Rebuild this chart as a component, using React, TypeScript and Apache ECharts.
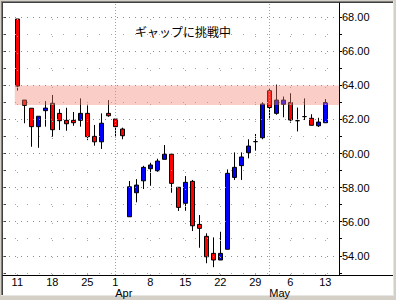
import React, { useEffect, useRef } from 'react';
import * as echarts from 'echarts';

const dates = [
  '3/11', '3/12', '3/13', '3/14', '3/15',
  '3/18', '3/19', '3/20', '3/21', '3/22',
  '3/25', '3/26', '3/27', '3/28',
  '4/1', '4/2', '4/3', '4/4', '4/5',
  '4/8', '4/9', '4/10', '4/11', '4/12',
  '4/15', '4/16', '4/17', '4/18', '4/19',
  '4/22', '4/23', '4/24', '4/25', '4/26',
  '4/29', '4/30', '5/1', '5/2', '5/3',
  '5/6', '5/7', '5/8', '5/9', '5/10',
  '5/13',
];
const openV = [
  67.9, 63.14, 62.66, 61.58, 62.52,
  62.95, 62.36, 61.95, 61.95, 61.95,
  62.36, 61.01, 60.69, 62.36,
  62.03, 61.44, 56.29, 57.7, 58.4,
  59.11, 58.99, 59.66, 59.96, 58.02,
  57.08, 58.37, 55.84, 55.14, 54.14,
  53.75, 54.38, 58.6, 59.29, 60.05,
  60.7, 60.93, 63.69, 62.36, 62.89,
  63.0, 61.93, 62.17, 62.07, 61.63,
  61.81,
];
const closeV = [
  63.96, 62.83, 61.58, 62.19, 62.67,
  61.4, 61.93, 61.75, 61.81, 62.36,
  60.99, 60.69, 61.78, 62.22,
  61.58, 61.05, 58.05, 58.15, 59.19,
  59.33, 59.56, 59.96, 58.25, 56.84,
  58.31, 55.76, 55.61, 53.94, 53.75,
  54.14, 58.84, 59.19, 59.8, 60.44,
  60.7, 62.91, 62.7, 63.14, 63.14,
  61.97, 61.93, 62.17, 61.66, 61.85,
  63.0,
];
const lowV = [
  63.7, 61.78, 60.4, 60.34, 61.58,
  60.99, 61.38, 61.34, 61.63, 61.58,
  60.79, 60.46, 60.27, 62.16,
  60.95, 60.84, 56.29, 57.14, 57.92,
  58.11, 58.93, 59.66, 57.7, 56.63,
  56.64, 55.45, 54.47, 53.56, 53.33,
  53.75, 54.38, 58.45, 58.45, 59.72,
  60.17, 60.84, 62.0, 62.28, 62.13,
  61.81, 61.3, 61.97, 61.66, 61.56,
  61.81,
];
const highV = [
  67.9, 63.14, 62.66, 62.19, 63.08,
  63.44, 62.61, 62.69, 62.44, 63.24,
  62.83, 61.68, 62.36, 63.14,
  62.03, 61.52, 58.39, 58.5, 59.28,
  59.46, 59.7, 60.5, 59.96, 58.02,
  58.68, 58.45, 56.39, 55.32, 55.08,
  55.41, 59.07, 60.07, 60.07, 60.84,
  61.15, 63.01, 63.83, 64.05, 63.35,
  63.54, 62.7, 63.24, 62.31, 62.1,
  63.2,
];

const dayTickIdx = [0, 5, 10, 14, 19, 24, 29, 34, 39, 44];
const dayTickText = ['11', '18', '25', '1', '8', '15', '22', '29', '6', '13'];
const monthIdx = [14, 36];
const monthText = ['Apr', 'May'];
const yLabelValues = [54, 56, 58, 60, 62, 64, 66, 68];
const yTickValues = [53, 54, 55, 56, 57, 58, 59, 60, 61, 62, 63, 64, 65, 66, 67, 68];
const yMinorGrid = [53, 55, 57, 59, 61, 63, 65, 67];
const gapStartIdx = 0;
const gapLow = 62.85;
const gapHigh = 64.0;
const titleText = 'ギャップに挑戦中';

const X_MIN = -2.04;
const X_MAX = 45.96;
const Y_MIN = 52.87;
const Y_MAX = 68.84;
const FONT = 'Liberation Sans, Arial, sans-serif';

export default function App() {
  const ref = useRef<HTMLDivElement>(null);

  useEffect(() => {
    if (!ref.current) return;
    const chart = echarts.init(ref.current, null, { renderer: 'svg' });

    const candleData = dates.map((_, i) => [i, openV[i], closeV[i], lowV[i], highV[i]]);

    const gridLines: any[] = [];
    yLabelValues.forEach((v) =>
      gridLines.push({ yAxis: v, lineStyle: { color: '#8c8c8c', width: 1, type: [1, 5] } })
    );
    yMinorGrid.forEach((v) =>
      gridLines.push({ yAxis: v, lineStyle: { color: '#a8a8a8', width: 1, type: [1, 11] } })
    );
    dayTickIdx.forEach((v) => {
      if (monthIdx.indexOf(v) < 0)
        gridLines.push({ xAxis: v, lineStyle: { color: '#a8a8a8', width: 1, type: [1, 16] } });
    });
    monthIdx.forEach((v) =>
      gridLines.push({ xAxis: v, lineStyle: { color: '#a0a0a0', width: 1, type: [1, 2] } })
    );

    const option: any = {
      animation: false,
      backgroundColor: '#d4d0c8',
      title: {
        text: titleText,
        left: 135,
        top: 25,
        padding: 0,
        textStyle: {
          fontSize: 12,
          fontWeight: 'normal',
          color: '#000',
          fontFamily: 'Noto Sans CJK JP',
        },
      },
      graphic: [
        { type: 'rect', z: -10, shape: { x: 2, y: 2, width: 391, height: 293 }, style: { fill: '#ffffff' } },
        { type: 'line', z: -9, shape: { x1: 1.5, y1: 1, x2: 1.5, y2: 295 }, style: { stroke: '#808080', lineWidth: 1 } },
        { type: 'line', z: -9, shape: { x1: 2.5, y1: 2, x2: 2.5, y2: 295 }, style: { stroke: '#404040', lineWidth: 1 } },
        { type: 'line', z: -9, shape: { x1: 1, y1: 1.5, x2: 393, y2: 1.5 }, style: { stroke: '#808080', lineWidth: 1 } },
        { type: 'line', z: -9, shape: { x1: 2, y1: 2.5, x2: 393, y2: 2.5 }, style: { stroke: '#404040', lineWidth: 1 } },
        { type: 'line', z: -9, shape: { x1: 393.5, y1: 1, x2: 393.5, y2: 296 }, style: { stroke: '#e8e6e2', lineWidth: 1 } },
        { type: 'line', z: -9, shape: { x1: 1, y1: 295.5, x2: 394, y2: 295.5 }, style: { stroke: '#e8e6e2', lineWidth: 1 } },
        { type: 'line', z: 5, shape: { x1: 339, y1: 275.5, x2: 393, y2: 275.5 }, style: { stroke: '#000', lineWidth: 1 } },
      ],
      grid: { left: 3, right: 57, top: 3, bottom: 25 },
      xAxis: [
        {
          type: 'value',
          min: X_MIN,
          max: X_MAX,
          position: 'bottom',
          axisLine: { show: true, onZero: false, lineStyle: { color: '#000', width: 1 } },
          axisTick: { show: false },
          splitLine: { show: false },
          axisLabel: {
            customValues: dayTickIdx,
            formatter: (v: number) => {
              const k = dayTickIdx.indexOf(Math.round(v));
              return k >= 0 ? dayTickText[k] : '';
            },
            margin: 1,
            fontSize: 11,
            lineHeight: 11,
            color: '#000',
            fontFamily: FONT,
          },
        },
        {
          type: 'value',
          min: X_MIN,
          max: X_MAX,
          position: 'bottom',
          offset: 10,
          axisLine: { show: false, onZero: false },
          axisTick: { show: false },
          splitLine: { show: false },
          axisLabel: {
            customValues: monthIdx,
            formatter: (v: number) => {
              const k = monthIdx.indexOf(Math.round(v));
              return k >= 0 ? monthText[k] : '';
            },
            align: 'left',
            margin: 2,
            fontSize: 11,
            lineHeight: 11,
            color: '#000',
            fontFamily: FONT,
          },
        },
      ],
      yAxis: [
        {
          type: 'value',
          min: Y_MIN,
          max: Y_MAX,
          position: 'right',
          axisLine: { show: true, onZero: false, lineStyle: { color: '#000', width: 1 } },
          axisTick: { show: true, customValues: yTickValues, length: 3, lineStyle: { color: '#000' } },
          splitLine: { show: false },
          axisLabel: {
            customValues: yLabelValues,
            formatter: (v: number) => v.toFixed(2),
            margin: 3,
            fontSize: 11,
            color: '#000',
            fontFamily: FONT,
          },
        },
        {
          type: 'value',
          min: Y_MIN,
          max: Y_MAX,
          position: 'left',
          axisLine: { show: false, onZero: false },
          axisTick: { show: true, inside: true, customValues: yTickValues, length: 3, lineStyle: { color: '#404040' } },
          splitLine: { show: false },
          axisLabel: { show: false },
        },
      ],
      series: [
        {
          type: 'line',
          z: 1,
          silent: true,
          data: [],
          markLine: {
            silent: true,
            symbol: ['none', 'none'],
            label: { show: false },
            animation: false,
            data: gridLines,
          },
        },
        {
          type: 'candlestick',
          z: 3,
          barWidth: 4,
          encode: { x: 0, y: [1, 2, 3, 4] },
          data: candleData,
          itemStyle: {
            color: '#0000ff',
            color0: '#ff0000',
            borderColor: '#000000',
            borderColor0: '#000000',
            borderColorDoji: '#000000',
            borderWidth: 1,
          },
        },
        {
          type: 'custom',
          z: 6,
          silent: true,
          data: [[gapStartIdx, gapLow, gapHigh]],
          encode: { x: 0, y: [1, 2] },
          renderItem: (params: any, api: any) => {
            const cs = params.coordSys;
            const pTop = api.coord([api.value(0), api.value(2)]);
            const pBot = api.coord([api.value(0), api.value(1)]);
            const x0 = pTop[0] - 2.5;
            return {
              type: 'rect',
              shape: { x: x0, y: pTop[1], width: cs.x + cs.width - x0, height: pBot[1] - pTop[1] },
              style: { fill: 'rgba(245,130,115,0.4)' },
            };
          },
        },
      ],
    };

    chart.setOption(option);
    return () => chart.dispose();
  }, []);

  return (
    <div
      ref={ref}
      style={{ position: 'fixed', left: 0, top: 0, width: 396, height: 300 }}
    />
  );
}
